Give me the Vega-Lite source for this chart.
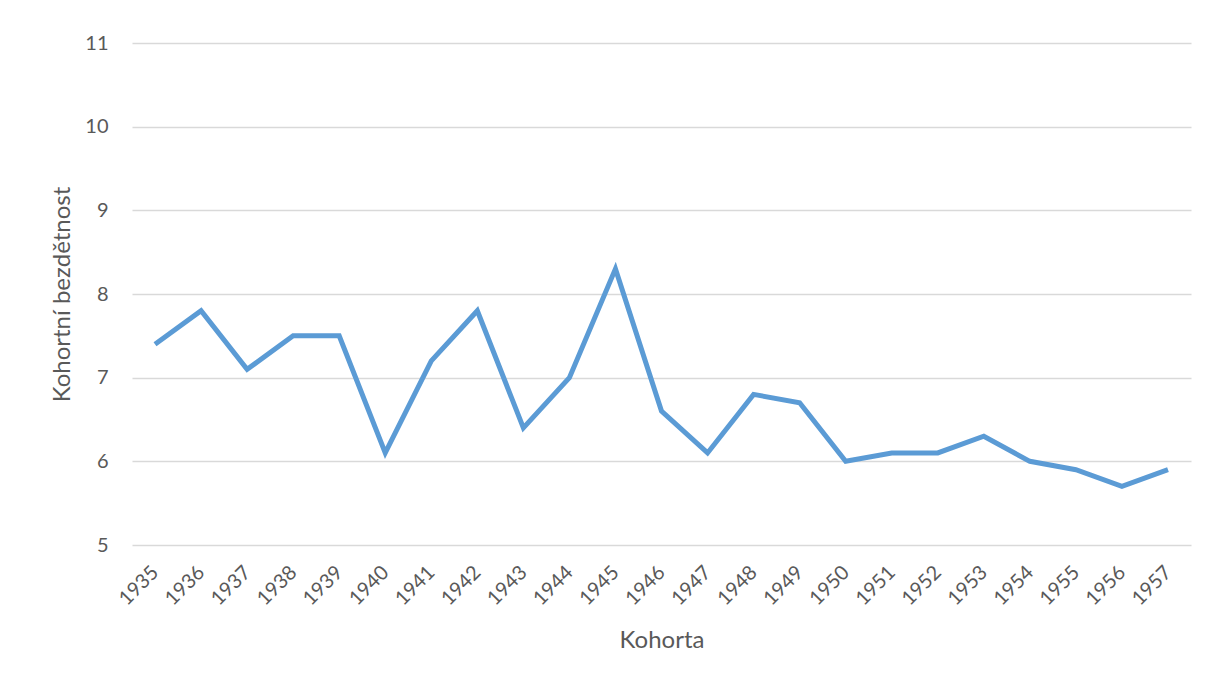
{
  "$schema": "https://vega.github.io/schema/vega-lite/v6.json",
  "autosize": {"type": "none"},
  "padding": {"left": 132, "top": 43, "right": 18, "bottom": 137},
  "width": 1059,
  "height": 502,
  "background": "white",
  "config": {
    "view": {"stroke": null},
    "font": "Lato",
    "axis": {"labelColor": "#595959", "titleColor": "#595959", "labelFont": "Lato", "titleFont": "Lato", "titleFontWeight": "normal"}
  },
  "data": {"values": [
    {"kohorta": "1935", "bezdetnost": 7.4},
    {"kohorta": "1936", "bezdetnost": 7.8},
    {"kohorta": "1937", "bezdetnost": 7.1},
    {"kohorta": "1938", "bezdetnost": 7.5},
    {"kohorta": "1939", "bezdetnost": 7.5},
    {"kohorta": "1940", "bezdetnost": 6.1},
    {"kohorta": "1941", "bezdetnost": 7.2},
    {"kohorta": "1942", "bezdetnost": 7.8},
    {"kohorta": "1943", "bezdetnost": 6.4},
    {"kohorta": "1944", "bezdetnost": 7.0},
    {"kohorta": "1945", "bezdetnost": 8.3},
    {"kohorta": "1946", "bezdetnost": 6.6},
    {"kohorta": "1947", "bezdetnost": 6.1},
    {"kohorta": "1948", "bezdetnost": 6.8},
    {"kohorta": "1949", "bezdetnost": 6.7},
    {"kohorta": "1950", "bezdetnost": 6.0},
    {"kohorta": "1951", "bezdetnost": 6.1},
    {"kohorta": "1952", "bezdetnost": 6.1},
    {"kohorta": "1953", "bezdetnost": 6.3},
    {"kohorta": "1954", "bezdetnost": 6.0},
    {"kohorta": "1955", "bezdetnost": 5.9},
    {"kohorta": "1956", "bezdetnost": 5.7},
    {"kohorta": "1957", "bezdetnost": 5.9}
  ]},
  "mark": {"type": "line", "color": "#5b9bd5", "strokeWidth": 5, "strokeJoin": "miter"},
  "encoding": {
    "x": {
      "field": "kohorta", "type": "ordinal", "title": "Kohorta",
      "scale": {"type": "point", "padding": 0.5},
      "axis": {"labelAngle": -45, "labelAlign": "right", "labelBaseline": "middle", "labelFontSize": 20, "labelPadding": 24, "ticks": false, "domain": false, "grid": false, "titleFontSize": 24, "titlePadding": 20}
    },
    "y": {
      "field": "bezdetnost", "type": "quantitative", "title": "Kohortní bezdětnost",
      "scale": {"domain": [5, 11], "nice": false, "zero": false},
      "axis": {"values": [5, 6, 7, 8, 9, 10, 11], "ticks": false, "domain": false, "grid": true, "gridColor": "#d9d9d9", "gridWidth": 1.5, "labelFontSize": 20, "labelPadding": 24, "titleFontSize": 24, "titlePadding": 10}
    }
  }
}
